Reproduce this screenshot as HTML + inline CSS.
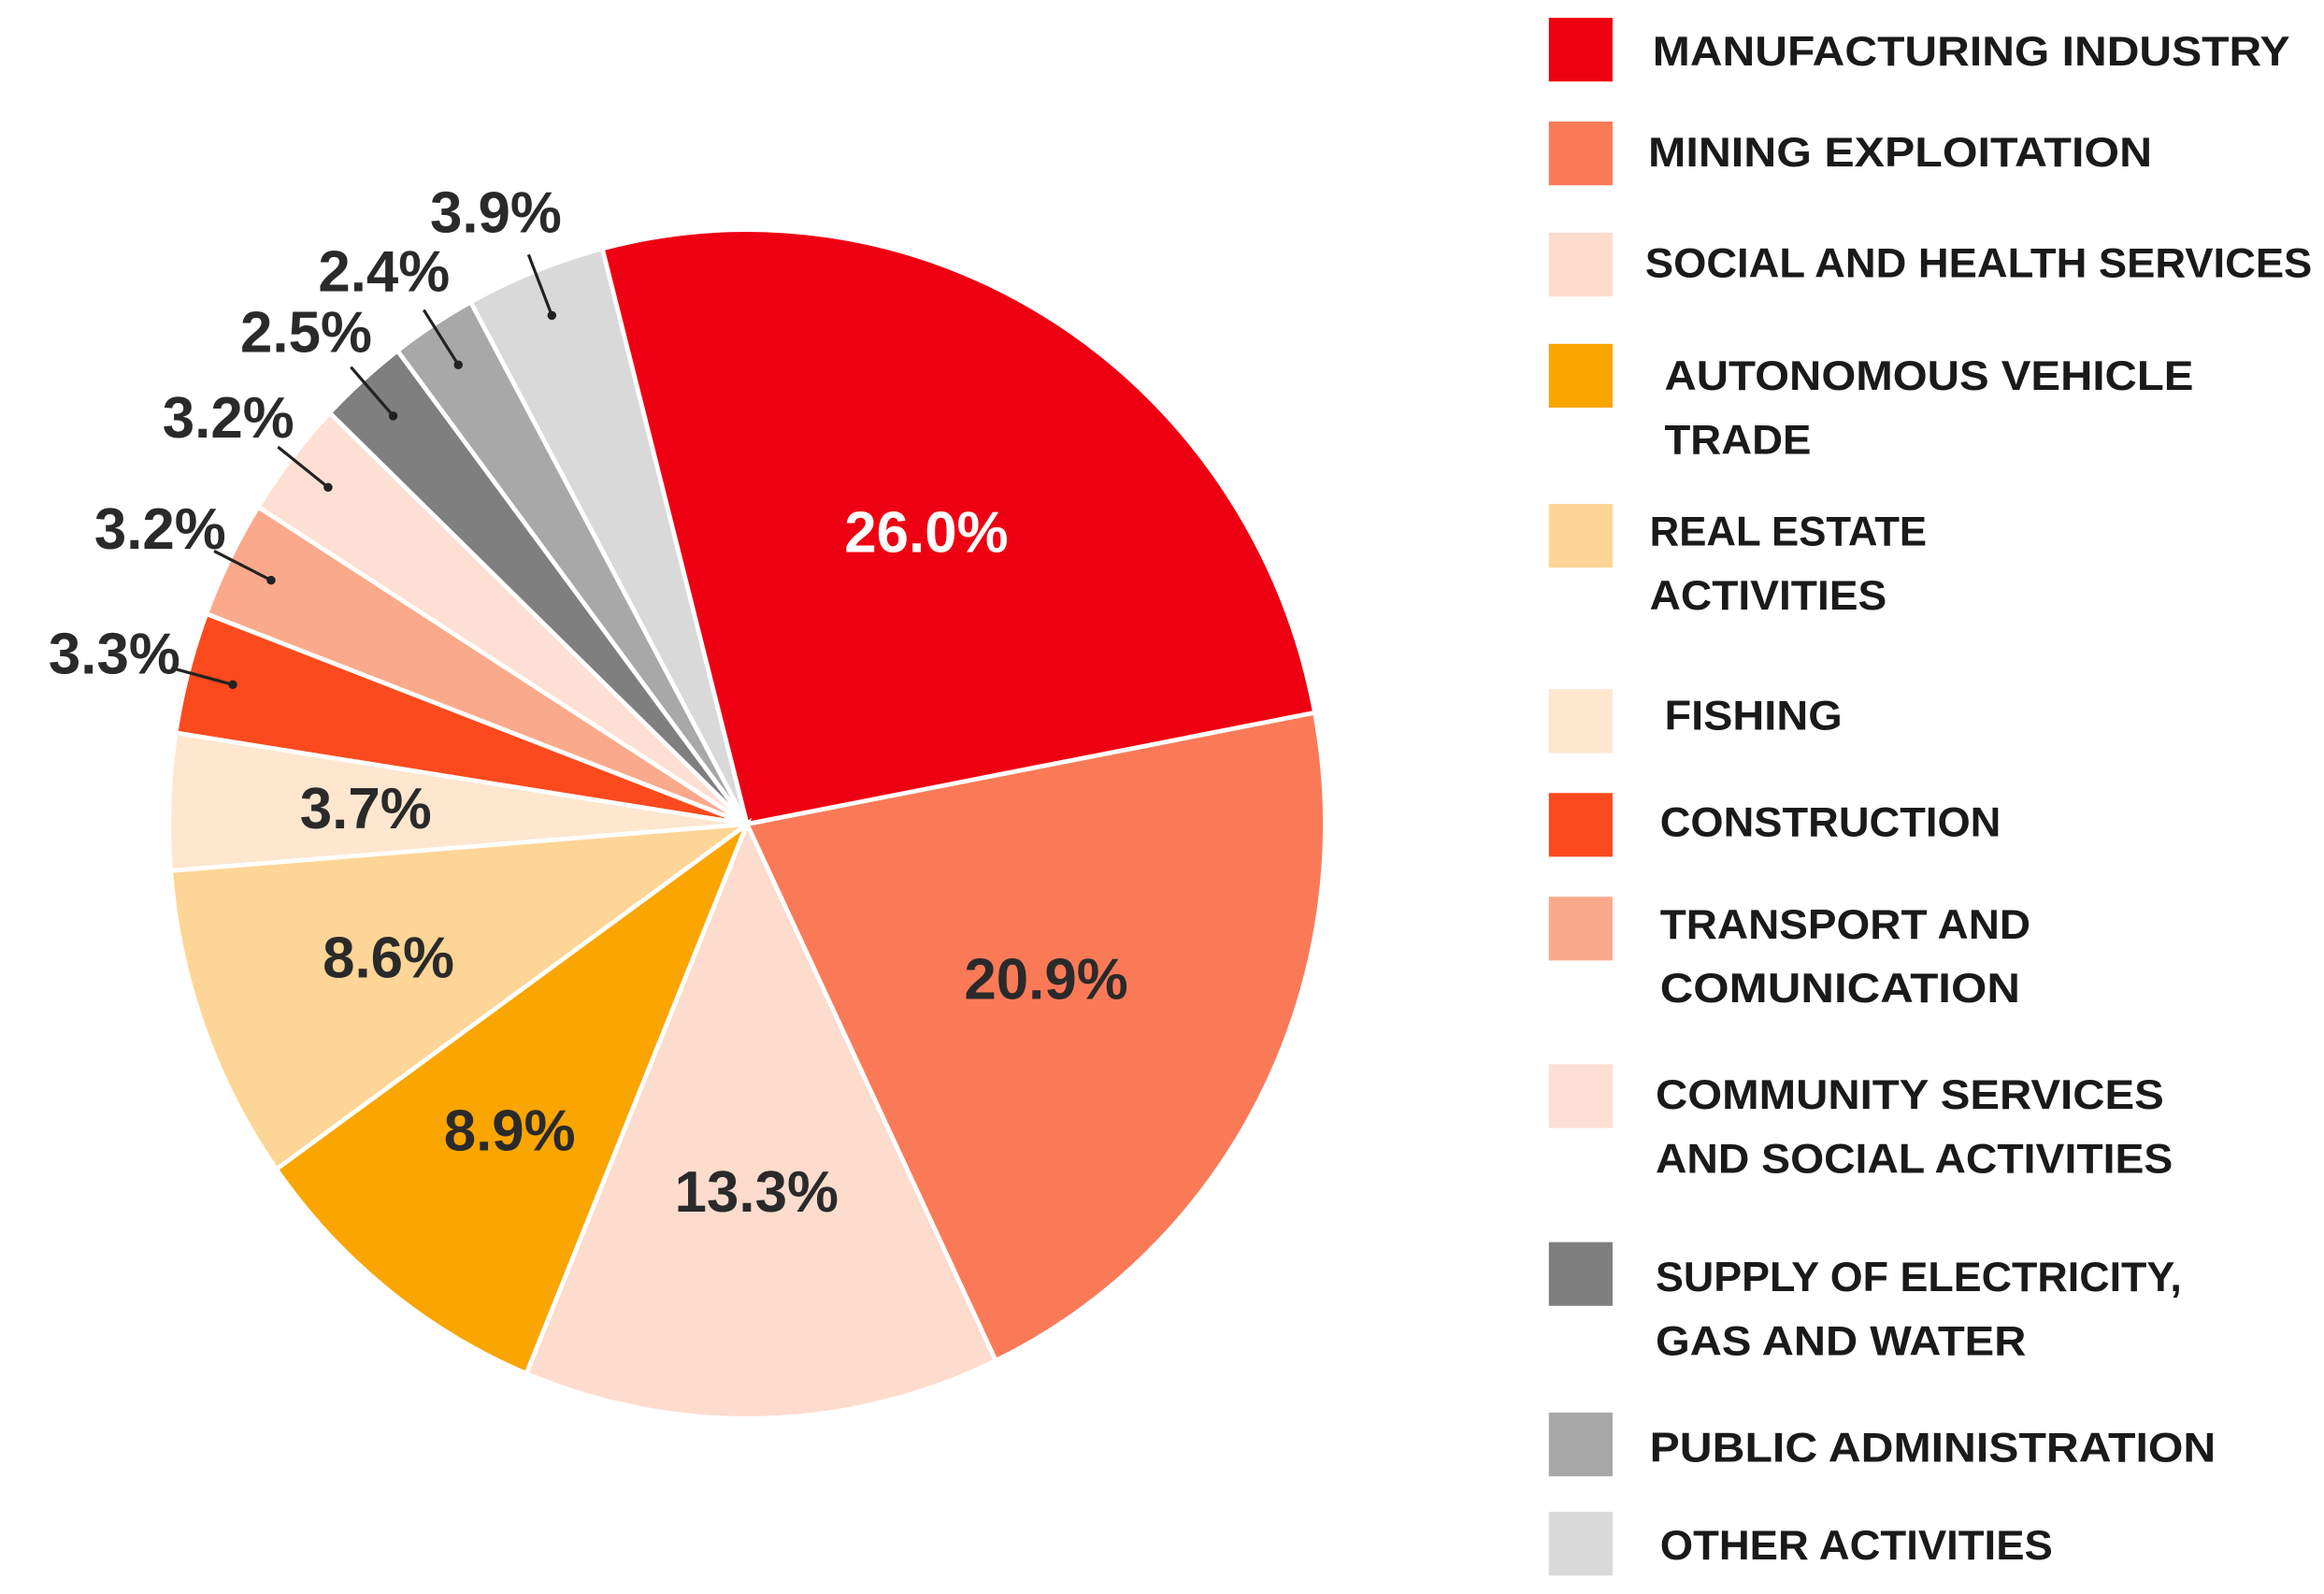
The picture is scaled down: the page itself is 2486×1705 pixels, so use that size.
<!DOCTYPE html>
<html><head><meta charset="utf-8"><style>
html,body{margin:0;padding:0;background:#fff;}
svg{display:block;}
.pl{font-family:"Liberation Sans",Arial,sans-serif;font-weight:bold;font-size:39px;}
.lg{font-family:"Liberation Sans",Arial,sans-serif;font-weight:bold;font-size:28px;fill:#1a1a1a;}
</style></head><body>
<svg id="chart" width="2486" height="1705" viewBox="0 0 1568 1075.4" xmlns="http://www.w3.org/2000/svg">
<g id="slices"></g>
<g id="labels"></g>
<g id="legend"></g>
</svg>
<script>
const categories = ["MANUFACTURING INDUSTRY","MINING EXPLOITATION","SOCIAL AND HEALTH SERVICES","AUTONOMOUS VEHICLE TRADE","REAL ESTATE ACTIVITIES","FISHING","CONSTRUCTION","TRANSPORT AND COMUNICATION","COMMUNITY SERVICES AND SOCIAL ACTIVITIES","SUPPLY OF ELECTRICITY, GAS AND WATER","PUBLIC ADMINISTRATION","OTHER ACTIVITIES"];
const values = [26.0,20.9,13.3,8.9,8.6,3.7,3.3,3.2,3.2,2.5,2.4,3.9];
const valueLabels = ["26.0%","20.9%","13.3%","8.9%","8.6%","3.7%","3.3%","3.2%","3.2%","2.5%","2.4%","3.9%"];
const colors = ["#EE0012","#FA7A58","#FDDCCD","#FAA500","#FDD596","#FEE6CF","#FA4A1E","#FBA98B","#FDDFD3","#7F7F7F","#A8A8A8","#D9D9D9"];
const legendLines = [["MANUFACTURING INDUSTRY"],["MINING EXPLOITATION"],["SOCIAL AND HEALTH SERVICES"],["AUTONOMOUS VEHICLE","TRADE"],["REAL ESTATE","ACTIVITIES"],["FISHING"],["CONSTRUCTION"],["TRANSPORT AND","COMUNICATION"],["COMMUNITY SERVICES","AND SOCIAL ACTIVITIES"],["SUPPLY OF ELECTRICITY,","GAS AND WATER"],["PUBLIC ADMINISTRATION"],["OTHER ACTIVITIES"]];
</script>
<script>
const NS="http://www.w3.org/2000/svg";
const cx=504, cy=556, RX=390, RY=401, start=-14.5;
const total=values.reduce((a,b)=>a+b,0);
function pt(angDeg,k){const a=angDeg*Math.PI/180;return [cx+k*RX*Math.sin(a),cy-k*RY*Math.cos(a)];}
const gS=document.getElementById('slices'), gL=document.getElementById('labels'), gG=document.getElementById('legend');
let acc=0;
values.forEach((v,i)=>{
  const a0=start+acc/total*360, a1=start+(acc+v)/total*360; acc+=v;
  const p0=pt(a0,1), p1=pt(a1,1);
  const large=(a1-a0)>180?1:0;
  const path=document.createElementNS(NS,'path');
  path.setAttribute('d',`M${cx},${cy} L${p0[0]},${p0[1]} A${RX},${RY} 0 ${large} 1 ${p1[0]},${p1[1]} Z`);
  path.setAttribute('fill',colors[i]);path.setAttribute('stroke','#fff');path.setAttribute('stroke-width','3');
  
  
  gS.appendChild(path);
  const mid=(a0+a1)/2;
  const t=document.createElementNS(NS,'text');
  t.setAttribute('class','pl');t.setAttribute('dominant-baseline','central');
  if(v>=3.5 && i!==11){
    const k = v>20?0.58:(v>10?0.62:0.66);
    const p=pt(mid,k);
    t.setAttribute('x',p[0]);t.setAttribute('y',p[1]);t.setAttribute('text-anchor','middle');
    t.setAttribute('fill',i===0?'#fff':'#2a2a2a');
  } else {
    const d=pt(mid,0.92), e=pt(mid,1.03), p=pt(mid,1.1);
    const ln=document.createElementNS(NS,'line');
    ln.setAttribute('x1',e[0]);ln.setAttribute('y1',e[1]);ln.setAttribute('x2',d[0]);ln.setAttribute('y2',d[1]);
    ln.setAttribute('stroke','#222');ln.setAttribute('stroke-width','2');
    
    
    gL.appendChild(ln);
    const c=document.createElementNS(NS,'circle');
    c.setAttribute('cx',d[0]);c.setAttribute('cy',d[1]);c.setAttribute('r','3');c.setAttribute('fill','#222');
    
    
    gL.appendChild(c);
    t.setAttribute('x',p[0]-12);t.setAttribute('y',p[1]-2);t.setAttribute('text-anchor','middle');
    t.setAttribute('fill','#2a2a2a');
  }
  t.textContent=valueLabels[i];
  
  
  gL.appendChild(t);
});
// legend
const swTop=[12,82,157,232,340,465,535,605,718,838,953,1020];
const txtX=[1115,1112,1110,1123,1113,1123,1120,1120,1117,1117,1113,1120];
const txtY=[35,103,178,254,359,483,555,624,739,862,977,1043];
const widths=[[430],[340],[450],[357,99],[187,160],[120],[230],[250,243],[343,349],[355,250],[382],[265]];
categories.forEach((c,i)=>{
  const g=document.createElementNS(NS,'g');
  
  
  const r=document.createElementNS(NS,'rect');
  r.setAttribute('x',1045);r.setAttribute('y',swTop[i]);r.setAttribute('width',43);r.setAttribute('height',43);r.setAttribute('fill',colors[i]);
  
  
  g.appendChild(r);
  legendLines[i].forEach((line,j)=>{
    const t=document.createElementNS(NS,'text');
    t.setAttribute('class','lg');t.setAttribute('x',txtX[i]);t.setAttribute('y',txtY[i]+j*43);
    t.setAttribute('dominant-baseline','central');
    t.setAttribute('textLength',widths[i][j]);t.setAttribute('lengthAdjust','spacingAndGlyphs');
    t.textContent=line;
    
    
    g.appendChild(t);
  });
  gG.appendChild(g);
});
</script>
</body></html>
